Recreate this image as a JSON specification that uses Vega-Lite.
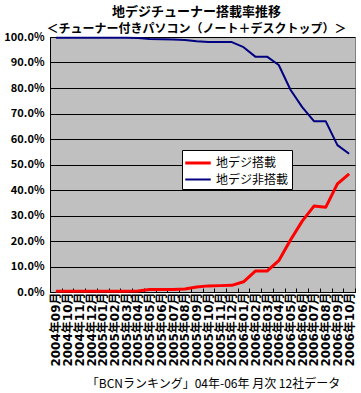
{
  "$schema": "https://vega.github.io/schema/vega-lite/v6.json",
  "autosize": {"type": "none"},
  "width": 305,
  "height": 255,
  "padding": {"left": 50, "top": 37, "right": 6, "bottom": 101},
  "background": "white",
  "title": {
    "text": "地デジチューナー搭載率推移",
    "subtitle": "＜チューナー付きパソコン（ノート＋デスクトップ）＞",
    "anchor": "middle",
    "dx": -6,
    "dy": 8,
    "offset": 4,
    "font": "Noto Sans CJK JP",
    "fontSize": 13,
    "fontWeight": "bold",
    "color": "black",
    "subtitleFont": "Noto Sans CJK JP",
    "subtitleFontSize": 12,
    "subtitleFontWeight": "bold",
    "subtitleColor": "black",
    "subtitlePadding": 5
  },
  "config": {
    "view": {"fill": "#C0C0C0", "stroke": "#808080", "strokeWidth": 1},
    "font": "Noto Sans CJK JP"
  },
  "data": {
    "values": [
      {"month": "2004年09月", "series": "地デジ搭載", "value": 0.3},
      {"month": "2004年10月", "series": "地デジ搭載", "value": 0.3},
      {"month": "2004年11月", "series": "地デジ搭載", "value": 0.3},
      {"month": "2004年12月", "series": "地デジ搭載", "value": 0.3},
      {"month": "2005年01月", "series": "地デジ搭載", "value": 0.3},
      {"month": "2005年02月", "series": "地デジ搭載", "value": 0.3},
      {"month": "2005年03月", "series": "地デジ搭載", "value": 0.3},
      {"month": "2005年04月", "series": "地デジ搭載", "value": 0.4},
      {"month": "2005年05月", "series": "地デジ搭載", "value": 1.0},
      {"month": "2005年06月", "series": "地デジ搭載", "value": 1.0},
      {"month": "2005年07月", "series": "地デジ搭載", "value": 1.0},
      {"month": "2005年08月", "series": "地デジ搭載", "value": 1.2},
      {"month": "2005年09月", "series": "地デジ搭載", "value": 2.0},
      {"month": "2005年10月", "series": "地デジ搭載", "value": 2.4},
      {"month": "2005年11月", "series": "地デジ搭載", "value": 2.5},
      {"month": "2005年12月", "series": "地デジ搭載", "value": 2.6},
      {"month": "2006年01月", "series": "地デジ搭載", "value": 4.0},
      {"month": "2006年02月", "series": "地デジ搭載", "value": 8.2},
      {"month": "2006年03月", "series": "地デジ搭載", "value": 8.2},
      {"month": "2006年04月", "series": "地デジ搭載", "value": 12.3},
      {"month": "2006年05月", "series": "地デジ搭載", "value": 20.4},
      {"month": "2006年06月", "series": "地デジ搭載", "value": 27.8},
      {"month": "2006年07月", "series": "地デジ搭載", "value": 33.7},
      {"month": "2006年08月", "series": "地デジ搭載", "value": 33.2},
      {"month": "2006年09月", "series": "地デジ搭載", "value": 42.4},
      {"month": "2006年10月", "series": "地デジ搭載", "value": 46.3},
      {"month": "2004年09月", "series": "地デジ非搭載", "value": 99.7},
      {"month": "2004年10月", "series": "地デジ非搭載", "value": 99.7},
      {"month": "2004年11月", "series": "地デジ非搭載", "value": 99.7},
      {"month": "2004年12月", "series": "地デジ非搭載", "value": 99.7},
      {"month": "2005年01月", "series": "地デジ非搭載", "value": 99.7},
      {"month": "2005年02月", "series": "地デジ非搭載", "value": 99.7},
      {"month": "2005年03月", "series": "地デジ非搭載", "value": 99.7},
      {"month": "2005年04月", "series": "地デジ非搭載", "value": 99.6},
      {"month": "2005年05月", "series": "地デジ非搭載", "value": 99.2},
      {"month": "2005年06月", "series": "地デジ非搭載", "value": 99.1},
      {"month": "2005年07月", "series": "地デジ非搭載", "value": 99.0},
      {"month": "2005年08月", "series": "地デジ非搭載", "value": 98.8},
      {"month": "2005年09月", "series": "地デジ非搭載", "value": 98.3},
      {"month": "2005年10月", "series": "地デジ非搭載", "value": 98.0},
      {"month": "2005年11月", "series": "地デジ非搭載", "value": 98.0},
      {"month": "2005年12月", "series": "地デジ非搭載", "value": 98.0},
      {"month": "2006年01月", "series": "地デジ非搭載", "value": 96.0},
      {"month": "2006年02月", "series": "地デジ非搭載", "value": 92.3},
      {"month": "2006年03月", "series": "地デジ非搭載", "value": 92.3},
      {"month": "2006年04月", "series": "地デジ非搭載", "value": 89.0},
      {"month": "2006年05月", "series": "地デジ非搭載", "value": 79.3},
      {"month": "2006年06月", "series": "地デジ非搭載", "value": 72.5},
      {"month": "2006年07月", "series": "地デジ非搭載", "value": 67.0},
      {"month": "2006年08月", "series": "地デジ非搭載", "value": 67.0},
      {"month": "2006年09月", "series": "地デジ非搭載", "value": 57.6},
      {"month": "2006年10月", "series": "地デジ非搭載", "value": 54.2}
    ]
  },
  "mark": {"type": "line", "strokeJoin": "round", "strokeCap": "butt"},
  "encoding": {
    "x": {
      "field": "month",
      "type": "ordinal",
      "sort": null,
      "bandPosition": 0.5,
      "scale": {"type": "band", "paddingInner": 0, "paddingOuter": 0},
      "axis": {
        "title": "「BCNランキング」04年-06年 月次 12社データ",
        "titleFont": "Noto Sans CJK JP",
        "titleFontSize": 12,
        "titleFontWeight": "normal",
        "titleColor": "black",
        "titlePadding": 12,
        "titleX": 163,
        "labelAngle": -90,
        "labelAlign": "right",
        "labelBaseline": "middle",
        "labelFont": "DejaVu Sans, Noto Sans CJK JP",
        "labelFontSize": 12,
        "labelFontWeight": "bold",
        "labelColor": "black",
        "labelOverlap": false,
        "labelPadding": 4,
        "labelLimit": 200,
        "tickBand": "extent",
        "tickSize": -4,
        "tickColor": "black",
        "domainColor": "black",
        "grid": false
      }
    },
    "y": {
      "field": "value",
      "type": "quantitative",
      "scale": {"domain": [0, 100], "nice": false},
      "axis": {
        "title": null,
        "values": [0, 10, 20, 30, 40, 50, 60, 70, 80, 90, 100],
        "labelExpr": "format(datum.value, '.1f') + '%'",
        "labelFont": "Noto Sans CJK JP",
        "labelFontSize": 11,
        "labelFontWeight": "bold",
        "labelColor": "black",
        "labelPadding": 10,
        "tickSize": -4,
        "tickColor": "black",
        "domainColor": "black",
        "grid": true,
        "gridColor": "black",
        "gridOpacity": 1,
        "gridWidth": 1
      }
    },
    "color": {
      "field": "series",
      "type": "nominal",
      "scale": {"domain": ["地デジ搭載", "地デジ非搭載"], "range": ["#FF0000", "#000080"]},
      "legend": {
        "title": null,
        "orient": "none",
        "legendX": 132,
        "legendY": 113,
        "direction": "vertical",
        "fillColor": "white",
        "strokeColor": "black",
        "padding": 3,
        "rowPadding": 1,
        "symbolType": "M-1.5,0H1.5",
        "symbolSize": 289,
        "symbolStrokeWidth": 3,
        "symbolOffset": 3,
        "labelFont": "Noto Sans CJK JP",
        "labelFontSize": 12,
        "labelColor": "black",
        "labelOffset": 8
      }
    },
    "strokeWidth": {
      "field": "series",
      "type": "nominal",
      "scale": {"domain": ["地デジ搭載", "地デジ非搭載"], "range": [3, 2]},
      "legend": null
    }
  }
}
